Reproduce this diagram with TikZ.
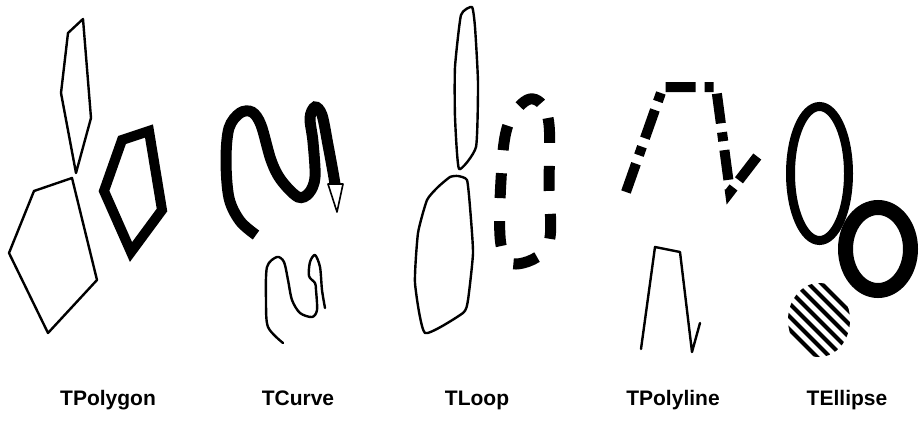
\documentclass[tikz,border=0pt]{standalone}
\usepackage{fontspec}
\usepackage{tikz}
\newfontfamily\captionfamily{Liberation Sans}
\definecolor{ShapeInk}{HTML}{000000}
\tikzset{
  thinline/.style={
    draw=ShapeInk,
    line width=2.4pt,
    line join=round,
    line cap=round
  },
  heavyline/.style={
    draw=ShapeInk,
    line width=10pt,
    line join=miter
  },
  dashloop/.style={
    draw=ShapeInk,
    line width=11pt,
    dash pattern=on 25pt off 23pt
  },
  dashdotline/.style={
    draw=ShapeInk,
    line width=10pt,
    dash pattern=on 30pt off 9pt on 9pt off 9pt
  },
  shapelabel/.style={
    font=\captionfamily\bfseries\fontsize{21}{24}\selectfont,
    anchor=base,
    inner sep=0pt
  }
}

\begin{document}
\begin{tikzpicture}[x=1pt,y=-1pt]
  \useasboundingbox (0,0) rectangle (924,423);

  % TPolygon
  \draw[thinline] (83,19) -- (68,33) -- (61,93) -- (76,173) -- (91,118) -- cycle;
  \draw[thinline] (72,178) -- (34,191) -- (9,253) -- (48,333) -- (97,280) -- cycle;
  \draw[heavyline] (122,140) -- (149,131) -- (162,210) -- (131,252) -- (104,191) -- cycle;

  % TCurve
  \draw[heavyline,line width=11pt] plot[smooth,tension=0.55] coordinates {
    (256,235) (240,221) (229,198) (226,160) (229,128) (240,113) (252,112)
    (261,125) (271,160) (281,180) (298,197) (309,193) (315,177) (313,142)
    (310,118) (315,107) (322,115) (328,145) (333,172) (335,184)};
  \draw[draw=ShapeInk,line width=1.6pt,fill=white,line join=round]
    (328,184) -- (343,184) -- (337,212) -- cycle;
  \draw[thinline] plot[smooth,tension=0.5] coordinates {
    (283,343) (268,327) (266,300) (267,267) (277,257) (284,262) (288,280)
    (292,300) (300,313) (312,317) (317,310) (316,290) (315,283) (309,276)
    (310,262) (315,255) (320,267) (322,290) (325,308)};

  % TLoop
  \draw[thinline] plot[smooth cycle,tension=0.3] coordinates {
    (472,7) (461,15) (455,67) (455,117) (459,169) (476,147) (478,83) (475,27)};
  \draw[thinline] plot[smooth cycle,tension=0.3] coordinates {
    (458,176) (467,180) (470,207) (473,253) (468,300) (463,313) (425,333)
    (415,283) (418,233) (427,200) (438,187) (450,177)};
  \draw[dashloop] plot[smooth cycle,tension=0.6] coordinates {
    (530,99) (548,118) (549,185) (548,245) (516,264) (501,245) (501,180)
    (508,125)};

  % TPolyline
  \draw[dashdotline] (626,192) -- (663,87) -- (716,87) -- (730,192) -- (760,153);
  \draw[thinline] (641,349) -- (655,247) -- (680,252) -- (692,352) -- (700,323);

  % TEllipse
  \draw[draw=ShapeInk,line width=9pt] (819.5,173.5) ellipse [x radius=29,y radius=67];
  \draw[draw=ShapeInk,line width=15pt] (878,249) ellipse [x radius=32.5,y radius=41.5];
  \begin{scope}
    \clip (819,320) ellipse [x radius=31,y radius=37];
    \foreach \k in {-4,...,4}
      \draw[draw=ShapeInk,line width=4pt] (769+13*\k,270) -- (869+13*\k,370);
  \end{scope}

  % labels
  \node[shapelabel] (lblpolygon) at (108,405) {TPolygon};
  \node[shapelabel] (lblcurve) at (298,405) {TCurve};
  \node[shapelabel] (lblloop) at (477,405) {TLoop};
  \node[shapelabel] (lblpolyline) at (673,405) {TPolyline};
  \node[shapelabel] (lblellipse) at (847,405) {TEllipse};
\end{tikzpicture}
\end{document}
